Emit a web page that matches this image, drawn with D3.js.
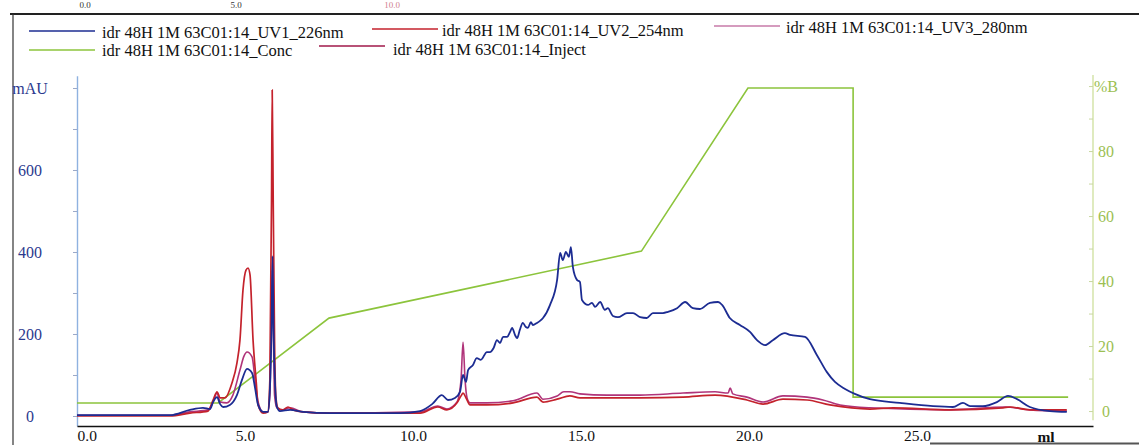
<!DOCTYPE html>
<html>
<head>
<meta charset="utf-8">
<script src="https://cdn.jsdelivr.net/npm/d3@7"></script>
<style>
  html, body { margin: 0; padding: 0; background: #ffffff; }
  svg { display: block; }
  text { font-family: "Liberation Serif", "Times New Roman", serif; }
</style>
</head>
<body>
<svg id="chart" width="1139" height="445"></svg>
<script>
// Run: idr 48H 1M 63C01:14 — elution volume (ml) vs absorbance (mAU) and %B
const uv1Ml = [0.00, 2.77, 3.36, 3.75, 3.96, 4.05, 4.17, 4.26, 4.35, 4.55, 4.76, 4.91, 5.06, 5.21, 5.30, 5.39, 5.54, 5.68, 5.74, 5.79, 5.82, 5.85, 5.89, 5.95, 6.04, 6.34, 6.73, 7.53, 9.61, 10.21, 10.57, 10.86, 11.04, 11.25, 11.40, 11.49, 11.58, 11.64, 11.78, 11.90, 12.02, 12.20, 12.29, 12.40, 12.50, 12.59, 12.68, 12.80, 12.89, 12.95, 13.04, 13.10, 13.18, 13.27, 13.36, 13.42, 13.51, 13.57, 13.69, 13.78, 13.87, 14.08, 14.29, 14.38, 14.46, 14.55, 14.64, 14.70, 14.76, 14.88, 14.97, 15.03, 15.21, 15.33, 15.42, 15.57, 15.71, 15.80, 15.95, 16.10, 16.37, 16.55, 16.76, 16.96, 17.14, 17.44, 17.59, 17.86, 18.10, 18.33, 18.54, 18.84, 19.08, 19.20, 19.43, 19.73, 20.03, 20.24, 20.48, 20.71, 21.07, 21.22, 21.67, 22.02, 22.32, 22.56, 22.86, 23.15, 23.60, 24.49, 25.48, 26.07, 26.37, 26.58, 26.96, 27.38, 27.71, 27.98, 28.36, 28.96, 29.46];
const uv1Mau = [2, 2, 15, 20, 17, 34, 46, 29, 22, 27, 51, 88, 115, 105, 68, 27, 10, 10, 63, 210, 390, 210, 88, 22, 12, 15, 10, 7, 7, 12, 29, 51, 39, 44, 59, 100, 83, 112, 124, 141, 137, 156, 156, 166, 185, 178, 193, 193, 205, 215, 197, 190, 210, 227, 217, 215, 229, 222, 227, 232, 239, 271, 332, 398, 380, 400, 388, 412, 363, 332, 327, 283, 271, 276, 266, 278, 259, 263, 244, 241, 251, 251, 241, 239, 251, 251, 254, 263, 278, 263, 261, 276, 278, 271, 239, 222, 205, 185, 173, 185, 202, 198, 193, 149, 107, 83, 66, 54, 41, 32, 24, 22, 32, 24, 24, 34, 49, 41, 22, 12, 10];

const uv2Ml = [0.00, 2.77, 3.36, 3.90, 4.05, 4.17, 4.26, 4.40, 4.61, 4.76, 4.85, 4.94, 5.03, 5.09, 5.15, 5.24, 5.33, 5.39, 5.54, 5.68, 5.74, 5.79, 5.81, 5.84, 5.88, 5.92, 5.98, 6.13, 6.28, 6.43, 6.73, 7.53, 10.21, 10.74, 11.01, 11.31, 11.43, 11.49, 11.58, 11.70, 12.20, 12.98, 13.69, 13.87, 14.29, 14.67, 14.97, 15.77, 16.76, 18.04, 18.99, 19.94, 20.42, 21.01, 21.73, 22.41, 23.60, 24.29, 25.98, 27.56, 27.77, 28.36, 29.46];
const uv2Mau = [0, 0, 7, 12, 39, 59, 44, 44, 80, 129, 185, 307, 356, 361, 344, 185, 88, 27, 7, 10, 88, 527, 795, 527, 185, 46, 20, 15, 22, 15, 10, 7, 7, 22, 15, 32, 49, 56, 44, 27, 27, 32, 46, 34, 41, 49, 44, 44, 44, 46, 51, 39, 29, 41, 39, 27, 17, 20, 15, 20, 22, 15, 15];

const uv3Ml = [0.00, 2.77, 3.36, 3.90, 4.05, 4.17, 4.26, 4.46, 4.64, 4.85, 4.97, 5.06, 5.21, 5.30, 5.39, 5.54, 5.68, 5.74, 5.81, 5.88, 5.95, 6.13, 6.34, 6.73, 7.53, 10.21, 10.74, 11.01, 11.31, 11.43, 11.49, 11.55, 11.61, 11.70, 12.20, 12.98, 13.69, 13.87, 14.29, 14.49, 14.67, 14.97, 15.77, 16.76, 18.04, 18.99, 19.38, 19.44, 19.52, 19.94, 20.42, 21.01, 21.73, 22.20, 22.71, 23.60, 25.98, 27.62, 28.36, 29.46];
const uv3Mau = [2, 2, 10, 15, 34, 56, 34, 32, 51, 112, 146, 156, 144, 88, 34, 10, 10, 51, 356, 51, 20, 15, 20, 10, 7, 10, 24, 17, 34, 88, 180, 88, 44, 32, 32, 37, 56, 41, 49, 59, 59, 54, 51, 51, 56, 59, 56, 68, 54, 46, 34, 49, 46, 39, 27, 20, 15, 22, 15, 12];

const concMl = [0.00, 4.20, 7.50, 16.80, 19.97, 23.10, 23.10, 29.50];
const concPctB = [2.5, 2.5, 28.6, 49.2, 99.4, 99.4, 4.3, 4.3];

const xTickValues = [0, 5, 10, 15, 20, 25];
const xTickLabels = ["0.0", "5.0", "10.0", "15.0", "20.0", "25.0"];
const leftTickValues = [0, 100, 200, 300, 400, 500, 600, 700, 800];
const leftTickLabels = ["0", "", "200", "", "400", "", "600", "", "mAU"];
const rightTickValues = [0, 10, 20, 30, 40, 50, 60, 70, 80, 90, 100];
const rightTickLabels = ["0", "", "20", "", "40", "", "60", "", "80", "", "%B"];

const legendNames = [
  "idr 48H 1M 63C01:14_UV1_226nm",
  "idr 48H 1M 63C01:14_UV2_254nm",
  "idr 48H 1M 63C01:14_UV3_280nm",
  "idr 48H 1M 63C01:14_Conc",
  "idr 48H 1M 63C01:14_Inject"
];

const colors = {
  uv1: "#1c2c92",
  uv2: "#c4222c",
  uv3: "#b0347a",
  conc: "#8cc43c",
  inject: "#a0184a"
};

const svg = d3.select("#chart");

const x = d3.scaleLinear().domain([0, 30.24]).range([77, 1093]);
const yL = d3.scaleLinear().domain([-24.4, 830]).range([426, 75.7]);
const yR = d3.scaleLinear().domain([-4.6, 103.4]).range([426, 75]);

// page frame
svg.append("line").attr("x1", 10).attr("x2", 1139).attr("y1", 14).attr("y2", 14)
  .attr("stroke", "#222").attr("stroke-width", 2);
svg.append("line").attr("x1", 13).attr("x2", 13).attr("y1", 14).attr("y2", 445)
  .attr("stroke", "#333").attr("stroke-width", 1.2);
svg.append("line").attr("x1", 930).attr("x2", 1139).attr("y1", 443.5).attr("y2", 443.5)
  .attr("stroke", "#555").attr("stroke-width", 2);

// volume labels of the preceding page section, just above the frame line
const cutLabels = [["0.0", 85, "#333"], ["5.0", 236, "#333"], ["10.0", 392, "#d08090"]];
svg.selectAll("text.cut").data(cutLabels).join("text")
  .attr("class", "cut")
  .attr("x", d => d[1]).attr("y", 8)
  .attr("text-anchor", "middle")
  .attr("font-size", 9)
  .attr("fill", d => d[2])
  .text(d => d[0]);

// legend
const legendItems = [
  { name: legendNames[0], color: colors.uv1, lx: 29, ly: 31, tx: 102, ty: 38 },
  { name: legendNames[1], color: colors.uv2, lx: 372, ly: 29, tx: 442, ty: 36 },
  { name: legendNames[2], color: "#c77aa8", lx: 714, ly: 26, tx: 786, ty: 33 },
  { name: legendNames[3], color: colors.conc, lx: 29, ly: 50, tx: 102, ty: 56 },
  { name: legendNames[4], color: colors.inject, lx: 319, ly: 46, tx: 393, ty: 55 }
];
const lg = svg.append("g");
lg.selectAll("line").data(legendItems).join("line")
  .attr("x1", d => d.lx).attr("x2", d => d.lx + 66)
  .attr("y1", d => d.ly).attr("y2", d => d.ly)
  .attr("stroke", d => d.color).attr("stroke-width", 1.6);
lg.selectAll("text").data(legendItems).join("text")
  .attr("x", d => d.tx).attr("y", d => d.ty)
  .attr("font-size", 16.5)
  .attr("fill", "#111")
  .text(d => d.name);

// left axis (mAU)
const axL = svg.append("g").attr("transform", `translate(${x.range()[0]},0)`)
  .call(d3.axisLeft(yL).tickValues(leftTickValues).tickSizeInner(4).tickSizeOuter(0)
    .tickFormat((d, i) => leftTickLabels[i]));
axL.select(".domain").attr("stroke", "#8fb2e0").attr("stroke-width", 1.4);
axL.selectAll(".tick line").attr("stroke", "#9aa8c8");
axL.selectAll(".tick text")
  .attr("x", -47).attr("text-anchor", "middle")
  .attr("font-size", 16).attr("fill", "#2b3a8e")
  .attr("font-family", "Liberation Serif, serif");

// right axis (%B)
const axR = svg.append("g").attr("transform", `translate(1093,0)`)
  .call(d3.axisRight(yR).tickValues(rightTickValues).tickSizeInner(-4).tickSizeOuter(0)
    .tickFormat((d, i) => rightTickLabels[i]));
axR.select(".domain").attr("stroke", "#d2e2a4").attr("stroke-width", 1.4)
  .attr("d", `M0,${yR(103.4)}V${yR(-2.8)}`);
axR.selectAll(".tick line").attr("stroke", "#c8d8a0");
axR.selectAll(".tick text")
  .attr("x", 13).attr("text-anchor", "middle")
  .attr("font-size", 16).attr("fill", "#9cbf52")
  .attr("font-family", "Liberation Serif, serif");

// bottom axis (ml)
const axB = svg.append("g").attr("transform", `translate(0,426)`)
  .call(d3.axisBottom(x).tickValues(xTickValues).tickSize(0).tickPadding(4)
    .tickFormat((d, i) => xTickLabels[i]));
axB.select(".domain").attr("stroke", "#111").attr("stroke-width", 1.6);
axB.selectAll(".tick text")
  .attr("font-size", 15.5).attr("fill", "#111")
  .attr("font-family", "Liberation Serif, serif")
  .attr("text-anchor", (d, i) => i === 0 ? "start" : "middle");
svg.append("text").attr("x", 1046).attr("y", 442)
  .attr("text-anchor", "middle").attr("font-size", 15.5).attr("font-weight", "bold")
  .attr("fill", "#111").text("ml");

// curves
const lineL = d3.line().x(d => x(d[0])).y(d => yL(d[1])).curve(d3.curveMonotoneX);
const lineR = d3.line().x(d => x(d[0])).y(d => yR(d[1]));

svg.append("path").datum(d3.zip(concMl, concPctB))
  .attr("d", lineR).attr("fill", "none")
  .attr("stroke", colors.conc).attr("stroke-width", 1.6);

svg.append("path").datum(d3.zip(uv3Ml, uv3Mau))
  .attr("d", lineL).attr("fill", "none")
  .attr("stroke", colors.uv3).attr("stroke-width", 1.6);

svg.append("path").datum(d3.zip(uv2Ml, uv2Mau))
  .attr("d", lineL).attr("fill", "none")
  .attr("stroke", colors.uv2).attr("stroke-width", 1.7);

svg.append("path").datum(d3.zip(uv1Ml, uv1Mau))
  .attr("d", lineL).attr("fill", "none")
  .attr("stroke", colors.uv1).attr("stroke-width", 1.8);
</script>
</body>
</html>
